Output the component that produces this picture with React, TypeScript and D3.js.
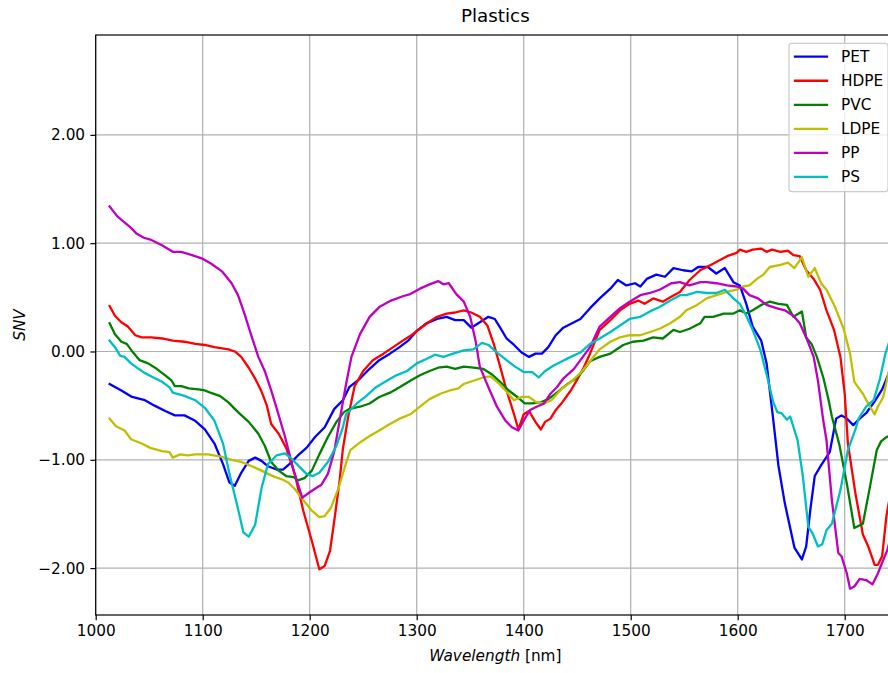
import React, { useEffect, useRef } from "react";
import * as d3 from "d3";

// [wavelength nm, SNV]
const pet: [number, number][] = [
  [1013, -0.3], [1024, -0.36], [1034, -0.42], [1046, -0.45], [1055, -0.5], [1065, -0.55], [1074, -0.59],
  [1083, -0.59], [1093, -0.64], [1102, -0.72], [1111, -0.85], [1119, -1.04], [1125, -1.21], [1130, -1.24],
  [1136, -1.12], [1143, -1.01], [1149, -0.98], [1155, -1.01], [1161, -1.06], [1169, -1.09], [1175, -1.09],
  [1181, -1.04], [1189, -0.96], [1197, -0.89], [1205, -0.79], [1214, -0.7], [1223, -0.53], [1231, -0.45],
  [1237, -0.33], [1247, -0.25], [1256, -0.16], [1265, -0.08], [1275, -0.02], [1284, 0.04], [1292, 0.1],
  [1300, 0.19], [1309, 0.26], [1319, 0.3], [1328, 0.32], [1336, 0.29], [1344, 0.29], [1351, 0.22],
  [1359, 0.27], [1367, 0.32], [1373, 0.3], [1378, 0.22], [1384, 0.12], [1391, 0.06], [1398, -0.01],
  [1405, -0.05], [1411, -0.02], [1417, -0.02], [1423, 0.04], [1430, 0.15], [1437, 0.22], [1447, 0.27],
  [1453, 0.3], [1462, 0.4], [1471, 0.49], [1481, 0.58], [1488, 0.66], [1496, 0.61], [1504, 0.63],
  [1509, 0.6], [1515, 0.67], [1524, 0.71], [1532, 0.69], [1540, 0.77], [1549, 0.75], [1557, 0.74],
  [1563, 0.78], [1572, 0.78], [1580, 0.72], [1588, 0.77], [1596, 0.64], [1602, 0.61], [1608, 0.44],
  [1614, 0.23], [1622, 0.1], [1627, -0.11], [1633, -0.61], [1638, -1.05], [1644, -1.4], [1653, -1.81],
  [1660, -1.92], [1664, -1.8], [1668, -1.45], [1672, -1.15], [1678, -1.05], [1686, -0.93], [1692, -0.62],
  [1697, -0.59], [1702, -0.62], [1708, -0.68], [1714, -0.62], [1720, -0.57], [1728, -0.46], [1735, -0.35],
  [1742, -0.18], [1748, -0.05],
];

const hdpe: [number, number][] = [
  [1013, 0.42], [1018, 0.33], [1024, 0.27], [1030, 0.23], [1037, 0.15], [1043, 0.13], [1052, 0.13],
  [1062, 0.12], [1072, 0.1], [1083, 0.09], [1093, 0.07], [1102, 0.06], [1111, 0.04], [1124, 0.02],
  [1130, 0.0], [1136, -0.05], [1143, -0.15], [1149, -0.25], [1155, -0.37], [1160, -0.5], [1164, -0.67],
  [1171, -0.76], [1178, -0.89], [1186, -1.13], [1194, -1.47], [1202, -1.75], [1209, -2.01], [1214, -1.98],
  [1219, -1.84], [1223, -1.56], [1228, -1.19], [1231, -0.9], [1236, -0.6], [1242, -0.32], [1250, -0.18],
  [1259, -0.08], [1269, -0.02], [1278, 0.04], [1287, 0.1], [1295, 0.15], [1303, 0.21], [1311, 0.27],
  [1319, 0.32], [1328, 0.35], [1336, 0.36], [1344, 0.38], [1351, 0.36], [1359, 0.32], [1366, 0.24],
  [1372, 0.07], [1378, -0.14], [1384, -0.36], [1391, -0.58], [1395, -0.72], [1400, -0.58], [1405, -0.55],
  [1411, -0.65], [1416, -0.72], [1420, -0.65], [1425, -0.62], [1430, -0.54], [1436, -0.47], [1444, -0.36],
  [1450, -0.26], [1456, -0.15], [1462, -0.02], [1471, 0.2], [1481, 0.29], [1490, 0.38], [1499, 0.44],
  [1507, 0.47], [1513, 0.44], [1521, 0.49], [1530, 0.46], [1537, 0.5], [1546, 0.55], [1555, 0.66],
  [1565, 0.75], [1577, 0.81], [1590, 0.88], [1599, 0.91], [1602, 0.94], [1608, 0.92], [1614, 0.94],
  [1622, 0.95], [1627, 0.92], [1632, 0.94], [1640, 0.92], [1647, 0.93], [1652, 0.89], [1658, 0.88],
  [1664, 0.75], [1671, 0.67], [1677, 0.57], [1683, 0.38], [1690, 0.2], [1696, -0.05], [1700, -0.39],
  [1703, -0.85], [1710, -1.31], [1717, -1.69], [1722, -1.8], [1728, -1.97], [1731, -1.97], [1735, -1.89],
  [1739, -1.52], [1742, -1.35], [1748, -1.05],
];

const pvc: [number, number][] = [
  [1013, 0.26], [1018, 0.16], [1024, 0.09], [1029, 0.07], [1035, -0.01], [1041, -0.08], [1049, -0.11],
  [1057, -0.16], [1065, -0.22], [1071, -0.27], [1074, -0.32], [1080, -0.32], [1087, -0.34], [1096, -0.35],
  [1102, -0.36], [1107, -0.38], [1116, -0.41], [1124, -0.47], [1133, -0.56], [1143, -0.65], [1152, -0.76],
  [1158, -0.87], [1164, -1.02], [1171, -1.1], [1178, -1.15], [1185, -1.16], [1189, -1.19], [1195, -1.17],
  [1202, -1.1], [1209, -0.95], [1217, -0.79], [1225, -0.65], [1232, -0.56], [1237, -0.53], [1247, -0.51],
  [1256, -0.48], [1265, -0.42], [1275, -0.38], [1284, -0.33], [1294, -0.27], [1303, -0.22], [1312, -0.18],
  [1320, -0.15], [1328, -0.14], [1336, -0.16], [1344, -0.14], [1353, -0.15], [1362, -0.16], [1370, -0.21],
  [1378, -0.28], [1386, -0.36], [1394, -0.42], [1401, -0.48], [1408, -0.48], [1416, -0.47], [1423, -0.44],
  [1431, -0.38], [1441, -0.3], [1450, -0.24], [1456, -0.17], [1462, -0.09], [1471, -0.05], [1481, -0.02],
  [1487, 0.02], [1493, 0.06], [1502, 0.09], [1512, 0.1], [1521, 0.13], [1530, 0.12], [1540, 0.2],
  [1546, 0.18], [1555, 0.21], [1565, 0.26], [1569, 0.32], [1577, 0.32], [1587, 0.35], [1596, 0.35],
  [1602, 0.38], [1608, 0.35], [1614, 0.38], [1622, 0.43], [1630, 0.46], [1638, 0.44], [1646, 0.43],
  [1652, 0.32], [1660, 0.37], [1664, 0.13], [1669, 0.07], [1674, -0.05], [1680, -0.24], [1685, -0.45],
  [1688, -0.6], [1695, -0.86], [1702, -1.22], [1709, -1.63], [1717, -1.59], [1723, -1.28], [1730, -0.91],
  [1734, -0.83], [1739, -0.79], [1742, -0.78], [1748, -0.76],
];

const ldpe: [number, number][] = [
  [1013, -0.62], [1019, -0.69], [1027, -0.73], [1033, -0.81], [1043, -0.85], [1051, -0.89], [1062, -0.92],
  [1069, -0.93], [1072, -0.98], [1079, -0.95], [1086, -0.96], [1093, -0.95], [1105, -0.95], [1117, -0.97],
  [1127, -1.0], [1136, -1.02], [1146, -1.06], [1155, -1.1], [1161, -1.13], [1168, -1.16], [1174, -1.18],
  [1180, -1.21], [1186, -1.27], [1193, -1.36], [1202, -1.47], [1209, -1.53], [1214, -1.52], [1220, -1.44],
  [1227, -1.26], [1233, -1.06], [1238, -0.91], [1247, -0.84], [1256, -0.78], [1265, -0.73], [1275, -0.67],
  [1284, -0.62], [1294, -0.58], [1303, -0.51], [1312, -0.44], [1322, -0.39], [1331, -0.36], [1339, -0.34],
  [1344, -0.3], [1353, -0.27], [1362, -0.24], [1369, -0.23], [1375, -0.28], [1383, -0.36], [1391, -0.45],
  [1398, -0.42], [1405, -0.42], [1412, -0.47], [1419, -0.48], [1426, -0.45], [1434, -0.36], [1444, -0.28],
  [1453, -0.2], [1462, -0.09], [1471, 0.02], [1481, 0.09], [1490, 0.13], [1499, 0.15], [1509, 0.15],
  [1518, 0.18], [1527, 0.21], [1537, 0.26], [1546, 0.32], [1552, 0.38], [1562, 0.43], [1571, 0.49],
  [1580, 0.52], [1590, 0.55], [1599, 0.57], [1605, 0.6], [1611, 0.61], [1618, 0.67], [1624, 0.71],
  [1630, 0.78], [1640, 0.8], [1647, 0.82], [1653, 0.77], [1660, 0.87], [1666, 0.69], [1672, 0.77],
  [1678, 0.63], [1683, 0.57], [1691, 0.41], [1699, 0.21], [1705, -0.02], [1709, -0.28], [1717, -0.39],
  [1723, -0.5], [1728, -0.58], [1731, -0.51], [1736, -0.42], [1742, -0.15], [1748, 0.05],
];

const pp: [number, number][] = [
  [1013, 1.34], [1020, 1.25], [1026, 1.2], [1032, 1.15], [1038, 1.09], [1045, 1.05], [1052, 1.03],
  [1062, 0.98], [1072, 0.92], [1080, 0.92], [1090, 0.89], [1099, 0.86], [1108, 0.81], [1118, 0.74],
  [1127, 0.63], [1133, 0.52], [1139, 0.35], [1146, 0.13], [1152, -0.05], [1158, -0.18], [1164, -0.36],
  [1169, -0.52], [1177, -0.79], [1185, -1.1], [1193, -1.35], [1200, -1.3], [1206, -1.26], [1211, -1.23],
  [1217, -1.13], [1223, -0.92], [1229, -0.58], [1234, -0.3], [1239, -0.05], [1247, 0.16], [1256, 0.32],
  [1265, 0.41], [1276, 0.47], [1287, 0.51], [1294, 0.53], [1303, 0.58], [1312, 0.62], [1320, 0.65],
  [1325, 0.62], [1330, 0.63], [1337, 0.53], [1344, 0.46], [1350, 0.32], [1355, 0.1], [1359, -0.14],
  [1367, -0.33], [1375, -0.51], [1383, -0.64], [1389, -0.7], [1395, -0.73], [1401, -0.62], [1406, -0.54],
  [1412, -0.51], [1419, -0.48], [1425, -0.39], [1431, -0.33], [1437, -0.25], [1447, -0.16], [1453, -0.08],
  [1462, 0.04], [1471, 0.23], [1481, 0.32], [1490, 0.4], [1499, 0.46], [1509, 0.52], [1518, 0.54],
  [1527, 0.57], [1538, 0.63], [1546, 0.64], [1555, 0.61], [1565, 0.64], [1571, 0.64], [1580, 0.63],
  [1590, 0.61], [1599, 0.6], [1605, 0.58], [1611, 0.52], [1619, 0.49], [1627, 0.43], [1636, 0.4],
  [1644, 0.38], [1652, 0.33], [1658, 0.26], [1664, 0.13], [1671, -0.05], [1675, -0.27], [1680, -0.64],
  [1683, -0.82], [1688, -1.37], [1694, -1.86], [1697, -1.89], [1702, -2.05], [1705, -2.19], [1709, -2.17],
  [1714, -2.1], [1720, -2.11], [1726, -2.15], [1731, -2.05], [1735, -1.95], [1740, -1.83], [1742, -1.75],
  [1748, -1.5],
];

const ps: [number, number][] = [
  [1013, 0.1], [1018, 0.04], [1023, -0.04], [1027, -0.05], [1033, -0.11], [1040, -0.16], [1046, -0.2],
  [1054, -0.24], [1062, -0.28], [1069, -0.33], [1072, -0.38], [1083, -0.41], [1093, -0.45], [1102, -0.52],
  [1111, -0.64], [1119, -0.85], [1125, -1.13], [1132, -1.41], [1138, -1.67], [1143, -1.71], [1149, -1.6],
  [1155, -1.26], [1161, -1.04], [1169, -0.96], [1177, -0.94], [1183, -0.99], [1191, -1.07], [1197, -1.13],
  [1203, -1.15], [1209, -1.12], [1217, -1.02], [1225, -0.87], [1231, -0.7], [1234, -0.58], [1244, -0.48],
  [1253, -0.41], [1262, -0.33], [1272, -0.27], [1281, -0.22], [1291, -0.18], [1300, -0.11], [1309, -0.07],
  [1317, -0.03], [1325, -0.05], [1334, -0.02], [1344, 0.01], [1353, 0.02], [1361, 0.08], [1367, 0.06],
  [1375, -0.01], [1384, -0.08], [1392, -0.14], [1400, -0.19], [1408, -0.19], [1414, -0.24], [1420, -0.18],
  [1428, -0.13], [1434, -0.1], [1444, -0.05], [1453, -0.01], [1462, 0.07], [1471, 0.12], [1481, 0.18],
  [1490, 0.24], [1499, 0.3], [1509, 0.32], [1518, 0.37], [1527, 0.41], [1537, 0.47], [1546, 0.52],
  [1552, 0.52], [1562, 0.55], [1571, 0.54], [1580, 0.54], [1588, 0.57], [1596, 0.49], [1602, 0.44],
  [1608, 0.33], [1614, 0.2], [1621, 0.02], [1627, -0.21], [1633, -0.46], [1637, -0.56], [1641, -0.57],
  [1646, -0.63], [1649, -0.6], [1656, -0.82], [1661, -1.16], [1666, -1.62], [1670, -1.68], [1675, -1.8],
  [1679, -1.78], [1683, -1.65], [1688, -1.59], [1696, -1.28], [1703, -0.91], [1710, -0.72], [1713, -0.62],
  [1720, -0.51], [1727, -0.45], [1733, -0.25], [1738, -0.02], [1742, 0.1], [1748, 0.2],
];

const seriesNames = ["PET", "HDPE", "PVC", "LDPE", "PP", "PS"];
const seriesData = [pet, hdpe, pvc, ldpe, pp, ps];
const seriesColors = ["#0000ff", "#ff0000", "#008000", "#bfbf00", "#bf00bf", "#00bfbf"];
const xTicks = [1000, 1100, 1200, 1300, 1400, 1500, 1600, 1700];
const yTicks = [-2, -1, 0, 1, 2];

const W = 888;
const H = 673;
const FONT = "DejaVu Sans, sans-serif";
const FS = 15.3;

const App = () => {
  const svgRef = useRef<SVGSVGElement>(null);

  useEffect(() => {
    const x0 = 95.7;
    const x1 = 895;
    const y0 = 35;
    const y1 = 615;

    const x = d3.scaleLinear().domain([1000, 1000 + (x1 - x0) / 1.07]).range([x0, x1]);
    const y = d3.scaleLinear().domain([-2.433, 2.922]).range([y1, y0]);

    const svg = d3.select(svgRef.current);
    svg.selectAll("*").remove();
    svg.attr("viewBox", [0, 0, W, H]).style("font-family", FONT);

    svg.append("rect").attr("width", W).attr("height", H).attr("fill", "#fff");

    svg
      .append("defs")
      .append("clipPath")
      .attr("id", "plot-clip")
      .append("rect")
      .attr("x", x0)
      .attr("y", y0)
      .attr("width", x1 - x0)
      .attr("height", y1 - y0);

    // grid
    const grid = svg.append("g").attr("stroke", "#b0b0b0").attr("stroke-width", 1.2);
    xTicks.forEach((t) => {
      grid.append("line").attr("x1", x(t)).attr("x2", x(t)).attr("y1", y0).attr("y2", y1);
    });
    yTicks.forEach((t) => {
      grid.append("line").attr("x1", x0).attr("x2", x1).attr("y1", y(t)).attr("y2", y(t));
    });

    // series
    const line = d3
      .line<[number, number]>()
      .x((d) => x(d[0]))
      .y((d) => y(d[1]));

    const lines = svg.append("g").attr("clip-path", "url(#plot-clip)");
    seriesData.forEach((s, i) => {
      lines
        .append("path")
        .attr("d", line(s))
        .attr("fill", "none")
        .attr("stroke", seriesColors[i])
        .attr("stroke-width", 2.3)
        .attr("stroke-linejoin", "round")
        .attr("stroke-linecap", "square");
    });

    // axes
    const fmt = (v: number) => (v < 0 ? "\u2212" + Math.abs(v).toFixed(2) : v.toFixed(2));

    svg
      .append("g")
      .attr("transform", `translate(0,${y1})`)
      .call(d3.axisBottom(x).tickValues(xTicks).tickSize(5.3).tickPadding(5).tickFormat((d) => String(d)))
      .call((g) => g.select(".domain").remove())
      .call((g) => g.selectAll("line").attr("stroke", "#000").attr("stroke-width", 1.2))
      .call((g) =>
        g.selectAll("text").attr("fill", "#000").style("font-size", `${FS}px`).style("font-family", FONT)
      );

    svg
      .append("g")
      .attr("transform", `translate(${x0},0)`)
      .call(d3.axisLeft(y).tickValues(yTicks).tickSize(5.3).tickPadding(5.3).tickFormat((d) => fmt(+d)))
      .call((g) => g.select(".domain").remove())
      .call((g) => g.selectAll("line").attr("stroke", "#000").attr("stroke-width", 1.2))
      .call((g) =>
        g.selectAll("text").attr("fill", "#000").style("font-size", `${FS}px`).style("font-family", FONT)
      );

    // spines
    svg
      .append("rect")
      .attr("x", x0)
      .attr("y", y0)
      .attr("width", x1 - x0)
      .attr("height", y1 - y0)
      .attr("fill", "none")
      .attr("stroke", "#000")
      .attr("stroke-width", 1.2);

    // labels
    svg
      .append("text")
      .attr("x", (x0 + x1) / 2)
      .attr("y", 22)
      .attr("text-anchor", "middle")
      .style("font-size", "18.3px")
      .text("Plastics");

    const xl = svg
      .append("text")
      .attr("x", (x0 + x1) / 2)
      .attr("y", 661)
      .attr("text-anchor", "middle")
      .style("font-size", `${FS}px`);
    xl.append("tspan").style("font-style", "italic").text("Wavelength");
    xl.append("tspan").text(" [nm]");

    svg
      .append("text")
      .attr("transform", `translate(25,${(y0 + y1) / 2}) rotate(-90)`)
      .attr("text-anchor", "middle")
      .style("font-size", `${FS}px`)
      .style("font-style", "italic")
      .text("SNV");

    // legend
    const lg = svg.append("g");
    lg.append("rect")
      .attr("x", 789)
      .attr("y", 43.3)
      .attr("width", 99)
      .attr("height", 148.4)
      .attr("rx", 3)
      .attr("fill", "#fff")
      .attr("fill-opacity", 0.8)
      .attr("stroke", "#cccccc")
      .attr("stroke-width", 1.2);

    seriesNames.forEach((name, i) => {
      const cy = 56.7 + i * 24.05;
      lg.append("line")
        .attr("x1", 795)
        .attr("x2", 827)
        .attr("y1", cy)
        .attr("y2", cy)
        .attr("stroke", seriesColors[i])
        .attr("stroke-width", 2.3)
        .attr("stroke-linecap", "square");
      lg.append("text")
        .attr("x", 841)
        .attr("y", cy + 5.5)
        .style("font-size", `${FS}px`)
        .attr("fill", "#000")
        .text(name);
    });
  }, []);

  return (
    <div style={{ position: "absolute", left: 0, top: 0, width: W, height: H }}>
      <svg ref={svgRef} width={W} height={H} style={{ display: "block" }} />
    </div>
  );
};

export default App;
